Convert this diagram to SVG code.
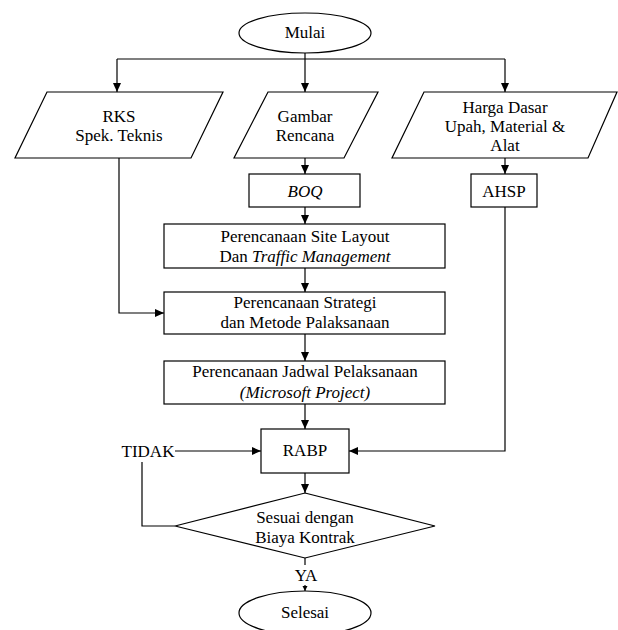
<svg xmlns="http://www.w3.org/2000/svg" width="618" height="630" viewBox="0 0 618 630">
<defs>
<marker id="arr" markerUnits="userSpaceOnUse" markerWidth="10" markerHeight="10" refX="9" refY="4" orient="auto">
<path d="M0,0 L9,4 L0,8 Z" fill="#000"/>
</marker>
<marker id="arrS" markerUnits="userSpaceOnUse" markerWidth="6" markerHeight="6" refX="5" refY="2.5" orient="auto">
<path d="M0,0 L5,2.5 L0,5 Z" fill="#000"/>
</marker>
<style>
.s{fill:#fff;stroke:#000;stroke-width:1.2}
.t{font-family:"Liberation Serif","Times New Roman",serif;font-size:17px;fill:#000;text-anchor:middle}
.i{font-style:italic}
.c{fill:none;stroke:#000;stroke-width:1.2}
</style>
</defs>
<rect width="618" height="630" fill="#fff"/>
<g id="connectors">
<path class="c" d="M305,53 V59"/>
<path class="c" d="M117,59 H505"/>
<path class="c" d="M117,59 V92" marker-end="url(#arr)"/>
<path class="c" d="M305,59 V92" marker-end="url(#arr)"/>
<path class="c" d="M505,59 V92" marker-end="url(#arr)"/>
<path class="c" d="M119,158 V313 H164" marker-end="url(#arr)"/>
<path class="c" d="M305,158 V174" marker-end="url(#arr)"/>
<path class="c" d="M305,207 V224" marker-end="url(#arr)"/>
<path class="c" d="M305,268 V292" marker-end="url(#arr)"/>
<path class="c" d="M305,334 V361" marker-end="url(#arr)"/>
<path class="c" d="M305,404 V429" marker-end="url(#arr)"/>
<path class="c" d="M505,158 V174" marker-end="url(#arr)"/>
<path class="c" d="M505,207 V451 H349" marker-end="url(#arr)"/>
<path class="c" d="M175,451 H261" marker-end="url(#arr)"/>
<path class="c" d="M142,462 V526 H175"/>
<path class="c" d="M305,473 V493" marker-end="url(#arr)"/>
<path class="c" d="M305,558 V565"/>
<path class="c" d="M305,585 V591" marker-end="url(#arrS)"/>
</g>
<g id="mulai">
<ellipse class="s" cx="305" cy="33" rx="66" ry="20"/>
<text class="t" x="305" y="38">Mulai</text>
</g>
<g id="rks">
<polygon class="s" points="47,92 223,92 191,158 15,158"/>
<text class="t" x="119" y="122">RKS</text>
<text class="t" x="119" y="141">Spek. Teknis</text>
</g>
<g id="gambar">
<polygon class="s" points="268,92 378,92 344,158 234,158"/>
<text class="t" x="305" y="122">Gambar</text>
<text class="t" x="305" y="141">Rencana</text>
</g>
<g id="harga">
<polygon class="s" points="424,92 617,92 588,158 392,158"/>
<text class="t" x="505" y="113">Harga Dasar</text>
<text class="t" x="505" y="132">Upah, Material &amp;</text>
<text class="t" x="505" y="151">Alat</text>
</g>
<g id="boq">
<rect class="s" x="249" y="174" width="111" height="33"/>
<text class="t i" x="305" y="197">BOQ</text>
</g>
<g id="ahsp">
<rect class="s" x="471" y="174" width="66" height="33"/>
<text class="t" x="504" y="197">AHSP</text>
</g>
<g id="sitelayout">
<rect class="s" x="164" y="224" width="281" height="44"/>
<text class="t" x="305" y="242">Perencanaan Site Layout</text>
<text class="t" x="305" y="262">Dan <tspan class="i">Traffic Management</tspan></text>
</g>
<g id="strategi">
<rect class="s" x="164" y="292" width="281" height="42"/>
<text class="t" x="305" y="308">Perencanaan Strategi</text>
<text class="t" x="305" y="328">dan Metode Palaksanaan</text>
</g>
<g id="jadwal">
<rect class="s" x="164" y="361" width="281" height="43"/>
<text class="t" x="305" y="377">Perencanaan Jadwal Pelaksanaan</text>
<text class="t i" x="305" y="398">(Microsoft Project)</text>
</g>
<g id="rabp">
<rect class="s" x="261" y="429" width="88" height="44"/>
<text class="t" x="305" y="456">RABP</text>
</g>
<g id="tidak">
<text class="t" x="148" y="457">TIDAK</text>
</g>
<g id="sesuai">
<polygon class="s" points="305,493 435,526 305,558 175,526"/>
<text class="t" x="305" y="523">Sesuai dengan</text>
<text class="t" x="305" y="543">Biaya Kontrak</text>
</g>
<g id="ya">
<text class="t" x="306" y="581">YA</text>
</g>
<g id="selesai">
<ellipse class="s" cx="305" cy="613" rx="66" ry="22"/>
<text class="t" x="305" y="618">Selesai</text>
</g>
</svg>
